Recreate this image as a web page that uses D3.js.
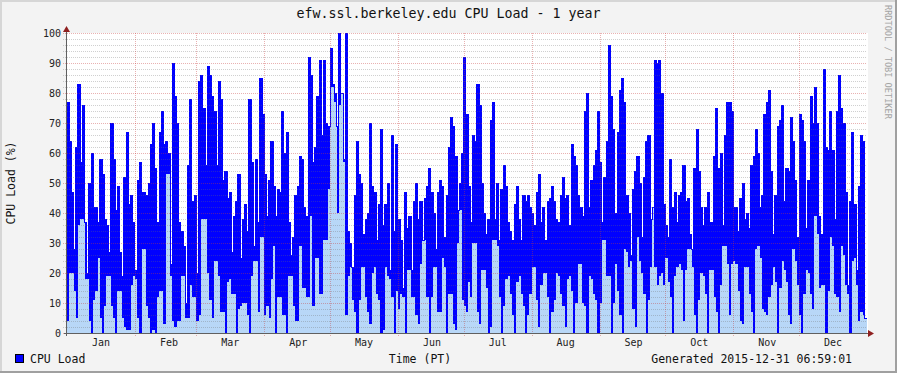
<!DOCTYPE html>
<html>
<head>
<meta charset="utf-8">
<script src="https://cdn.jsdelivr.net/npm/d3@7"></script>
<style>
  html, body { margin: 0; padding: 0; background: #f3f3f3; }
  svg text { font-family: "DejaVu Sans Mono", monospace; }
</style>
</head>
<body>
<svg id="chart"></svg>
<script>
// daily CPU load for 2015, one value per day (Jan 1 .. Dec 31)
// cpuMax = top of the dark blue, cpuAvg = top of the light blue
const cpuMax = [
  77,64,47,28,62,83,57,76,37,20, 50,60,42,42,37,58,53,38,36,27, 70,58,41,49,27,19,52,67,43,46,
  37,21,51,57,47,47,46,50,63,70, 55,37,67,74,63,64,60,23,90,79, 70,37,34,29,10,56,78,44,46,20, 84,
  86,75,56,89,86,79,74,56,84,78, 51,54,45,47,27,39,44,53,25,38, 43,34,78,57,29,58,37,85,73,53,
  39,51,64,49,39,48,47,74,60,67, 37,26,32,46,49,59,58,42,39,92, 86,57,62,79,91,66,91,70,69,95, 83,
  80,69,100,80,58,100,34,30,22,46, 64,53,50,33,38,40,70,49,47,31, 43,68,36,43,50,21,66,34,63,38,
  31,15,47,35,39,21,44,50,38,44, 31,45,49,55,47,40,28,47,51,49, 32,46,62,72,69,59,41,50,60,92, 73,
  49,37,66,64,83,76,50,40,33,38, 71,77,38,50,31,48,56,49,37,34, 31,43,49,38,31,46,44,46,42,40,
  36,47,53,37,42,31,44,45,49,44, 38,37,46,52,45,46,36,63,59,56, 46,42,39,74,80,42,51,56,61,74, 57,
  37,52,64,96,79,68,40,67,81,85, 77,46,40,26,48,54,59,50,32,52, 64,66,38,42,91,90,91,80,43,36,
  32,58,42,47,37,46,47,56,44,45, 33,28,55,68,54,42,36,42,47,37, 37,59,75,55,60,36,66,77,77,74, 42,
  42,34,45,50,38,40,35,56,59,68, 60,42,46,73,77,81,54,33,46,69, 71,76,44,55,54,72,64,51,32,73,
  71,64,35,51,79,70,82,70,39,33, 88,62,61,74,61,38,74,86,75,70, 47,16,44,67,43,21,49,66,64,5
];
const cpuAvg = [
  4,20,20,14,5,36,38,38,18,18, 4,0,11,14,25,5,0,9,19,19, 9,5,0,14,14,5,2,1,1,16,
  19,18,5,0,28,28,9,5,0,1, 0,12,14,14,3,53,53,19,4,2, 4,4,19,19,5,5,16,12,12,4, 6,
  38,38,38,20,11,5,24,24,19,7, 7,0,17,18,13,13,0,8,9,10, 10,6,0,19,24,24,7,32,32,6,
  9,5,18,29,0,12,12,6,6,0, 19,19,9,4,4,29,15,15,12,12, 39,9,25,25,13,13,31,31,48,82, 82,
  77,40,76,80,57,6,19,22,11,7, 0,11,22,22,12,7,3,20,22,13, 11,0,1,22,19,18,12,0,14,8,
  13,12,0,21,21,12,12,6,3,23, 31,31,12,0,12,22,22,7,7,25, 22,0,13,13,3,1,30,41,11,9, 7,
  17,12,30,30,7,3,21,21,15,0, 2,31,31,29,12,0,9,18,19,13, 6,0,17,19,13,9,0,6,13,22,
  22,11,2,16,20,20,12,0,7,11, 20,19,13,9,2,18,19,14,0,10, 23,23,10,9,0,19,18,13,11,0, 10,
  31,31,19,19,0,10,23,14,6,0, 28,27,22,24,8,2,32,24,20,13, 0,11,22,42,22,16,19,20,16,25,
  17,12,0,19,22,23,21,4,21,28, 28,22,6,0,11,20,19,13,0,21, 21,12,7,0,16,29,29,23,6,23, 24,
  23,14,4,3,22,22,13,7,0,28, 29,25,8,7,6,12,16,22,17,0, 15,24,21,17,6,3,28,24,16,6,
  0,13,21,20,13,8,39,33,15,16, 16,0,14,32,29,13,12,7,29,26, 16,13,0,24,25,16,4,7,6,5
];
const yTicks = [0, 10, 20, 30, 40, 50, 60, 70, 80, 90, 100];
const monthNames = ["Jan","Feb","Mar","Apr","May","Jun","Jul","Aug","Sep","Oct","Nov","Dec"];

const W = 897, H = 373;
const pLeft = 67, pRight = 867, pTop = 33, pBottom = 333;
const t0 = new Date(Date.UTC(2015, 0, 1)), t1 = new Date(Date.UTC(2016, 0, 1));

const svg = d3.select('#chart').attr('width', W).attr('height', H);

const x = d3.scaleUtc().domain([t0, t1]).range([pLeft, pRight]);
const y = d3.scaleLinear().domain([0, 100]).range([pBottom, pTop]);

const days = d3.utcDay.range(t0, t1);
const rows = days.map((d, i) => ({ d: d, max: cpuMax[i], avg: cpuAvg[i] }));
rows.push({ d: t1, max: cpuMax[cpuMax.length - 1], avg: cpuAvg[cpuAvg.length - 1] }); // closes the last step

// background + bevel
svg.append('rect').attr('width', W).attr('height', H).attr('fill', '#f3f3f3');
svg.append('rect').attr('x', 0).attr('y', 0).attr('width', W).attr('height', 2).attr('fill', '#d6d6d6');
svg.append('rect').attr('x', 0).attr('y', 0).attr('width', 2).attr('height', H).attr('fill', '#d6d6d6');
svg.append('rect').attr('x', 0).attr('y', H - 2).attr('width', W).attr('height', 2).attr('fill', '#a0a0a0');
svg.append('rect').attr('x', W - 2).attr('y', 0).attr('width', 2).attr('height', H).attr('fill', '#a0a0a0');

// canvas
svg.append('rect')
  .attr('x', pLeft).attr('y', pTop)
  .attr('width', pRight - pLeft + 1).attr('height', pBottom - pTop)
  .attr('fill', '#ffffff');

const plot = svg.append('g').attr('shape-rendering', 'crispEdges');

plot.append('path')
  .datum(rows)
  .attr('fill', '#0000ff')
  .attr('d', d3.area().curve(d3.curveStepAfter)
    .x(d => x(d.d)).y0(y(0)).y1(d => y(d.max)));

plot.append('path')
  .datum(rows)
  .attr('fill', '#b8d7f7')
  .attr('d', d3.area().curve(d3.curveStepAfter)
    .x(d => x(d.d)).y0(y(0)).y1(d => y(d.avg)));

plot.append('path')
  .datum(rows)
  .attr('fill', 'none')
  .attr('stroke', '#0000ff')
  .attr('stroke-width', 1)
  .attr('d', d3.line().curve(d3.curveStepAfter)
    .x(d => x(d.d)).y(d => y(d.max)));

// grid (drawn over the data, semi transparent like rrdtool)
const grid = svg.append('g').attr('shape-rendering', 'crispEdges');
const minorVals = d3.range(2, 100, 2).filter(v => v % 10 !== 0);

grid.selectAll('line.minor')
  .data(minorVals)
  .enter().append('line')
  .attr('x1', pLeft - 4).attr('x2', pRight)
  .attr('y1', d => Math.round(y(d)) + 0.5).attr('y2', d => Math.round(y(d)) + 0.5)
  .attr('stroke', 'rgba(110,110,110,0.32)')
  .attr('stroke-dasharray', '1,1');

grid.selectAll('line.major')
  .data(yTicks)
  .enter().append('line')
  .attr('x1', pLeft - 4).attr('x2', pRight)
  .attr('y1', d => Math.round(y(d)) + 0.5).attr('y2', d => Math.round(y(d)) + 0.5)
  .attr('stroke', 'rgba(200,60,60,0.4)')
  .attr('stroke-dasharray', '1,1');

const monthStarts = d3.utcMonth.range(t0, t1);
grid.selectAll('line.month')
  .data(monthStarts.slice(1))
  .enter().append('line')
  .attr('x1', d => Math.round(x(d)) + 0.5).attr('x2', d => Math.round(x(d)) + 0.5)
  .attr('y1', pTop).attr('y2', pBottom + 3)
  .attr('stroke', 'rgba(200,60,60,0.4)')
  .attr('stroke-dasharray', '1,1');

// axes
const axisCol = '#606060';
svg.append('line')
  .attr('x1', pLeft - 3).attr('x2', pRight + 2)
  .attr('y1', pBottom + 0.5).attr('y2', pBottom + 0.5)
  .attr('stroke', axisCol).attr('shape-rendering', 'crispEdges');
svg.append('line')
  .attr('x1', pLeft - 0.5).attr('x2', pLeft - 0.5)
  .attr('y1', pBottom + 3).attr('y2', pTop - 3)
  .attr('stroke', axisCol).attr('shape-rendering', 'crispEdges');

svg.append('path')
  .attr('d', `M${pRight + 1},${pBottom - 3}L${pRight + 7},${pBottom + 0.5}L${pRight + 1},${pBottom + 4}Z`)
  .attr('fill', '#8f2020');
svg.append('path')
  .attr('d', `M${pLeft - 4},${pTop - 1}L${pLeft - 0.5},${pTop - 7}L${pLeft + 3},${pTop - 1}Z`)
  .attr('fill', '#8f2020');

// y tick labels
svg.selectAll('text.ytick')
  .data(yTicks)
  .enter().append('text')
  .attr('x', pLeft - 6).attr('y', d => y(d))
  .attr('dy', '0.36em')
  .attr('text-anchor', 'end')
  .attr('font-size', '10px')
  .attr('fill', '#222')
  .text(d => d);

// month labels, centred on the 16th at noon like rrdtool
svg.selectAll('text.month')
  .data(monthStarts)
  .enter().append('text')
  .attr('x', (d, i) => x(new Date(Date.UTC(2015, i, 16, 12))))
  .attr('y', 346)
  .attr('text-anchor', 'middle')
  .attr('font-size', '10px')
  .attr('fill', '#222')
  .text((d, i) => monthNames[i]);

// title
svg.append('text')
  .attr('x', 448.5).attr('y', 18)
  .attr('text-anchor', 'middle')
  .attr('font-size', '13.3px')
  .attr('fill', '#111')
  .text('efw.ssl.berkeley.edu CPU Load - 1 year');

// y axis title
svg.append('text')
  .attr('transform', 'translate(15,183) rotate(-90)')
  .attr('text-anchor', 'middle')
  .attr('font-size', '11.5px')
  .attr('fill', '#111')
  .text('CPU Load (%)');

// watermark
svg.append('text')
  .attr('transform', 'translate(885,5) rotate(90)')
  .attr('font-size', '8.6px')
  .attr('fill', '#a4a4a4')
  .text('RRDTOOL / TOBI OETIKER');

// legend + footer
svg.append('rect')
  .attr('x', 15.5).attr('y', 354.5).attr('width', 8).attr('height', 8)
  .attr('fill', '#0000ff').attr('stroke', '#000');
svg.append('text')
  .attr('x', 30).attr('y', 363)
  .attr('font-size', '11.5px').attr('fill', '#111')
  .text('CPU Load');
svg.append('text')
  .attr('x', 420).attr('y', 363)
  .attr('text-anchor', 'middle')
  .attr('font-size', '11.5px').attr('fill', '#111')
  .text('Time (PT)');
svg.append('text')
  .attr('x', 852).attr('y', 363)
  .attr('text-anchor', 'end')
  .attr('font-size', '11.5px').attr('fill', '#111')
  .text('Generated 2015-12-31 06:59:01');
</script>
</body>
</html>
